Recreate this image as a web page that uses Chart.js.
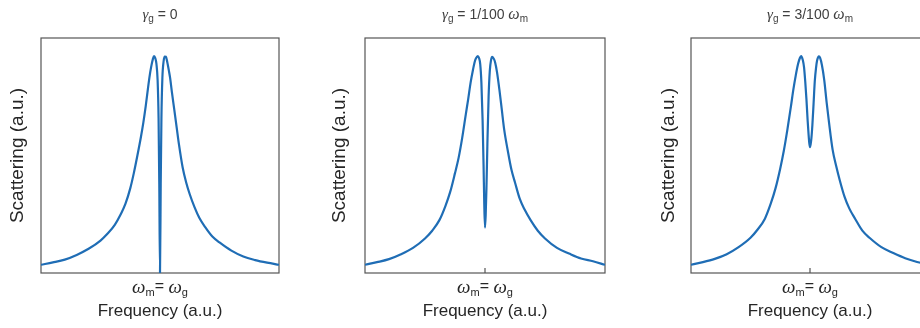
<!DOCTYPE html>
<html><head><meta charset="utf-8">
<script src="https://cdn.jsdelivr.net/npm/chart.js@4.4.1/dist/chart.umd.min.js"></script>
<style>
html,body{margin:0;padding:0;background:#fff;overflow:hidden;width:920px;height:328px;position:relative;}
.box{position:absolute;top:0;width:310px;height:328px;}
canvas{display:block;}
</style></head><body>
<div class="box" style="left:0px"><canvas id="c1" width="310" height="328"></canvas></div>
<div class="box" style="left:322px"><canvas id="c2" width="310" height="328"></canvas></div>
<div class="box" style="left:651px"><canvas id="c3" width="310" height="328"></canvas></div>
<script>
// ---- data ----
const freq = [-1, -0.9, -0.8, -0.7, -0.6, -0.5, -0.44, -0.38, -0.33, -0.29, -0.25, -0.22, -0.19, -0.16, -0.14, -0.12, -0.1, -0.085, -0.075, -0.06, -0.05, -0.04, -0.03, -0.02, -0.012, -0.006, 0,
              0.006, 0.012, 0.02, 0.03, 0.04, 0.05, 0.06, 0.075, 0.085, 0.1, 0.12, 0.14, 0.16, 0.19, 0.22, 0.25, 0.29, 0.33, 0.38, 0.44, 0.5, 0.6, 0.7, 0.8, 0.9, 1];

const scatterGamma0 = [0.035, 0.045, 0.057, 0.077, 0.103, 0.138, 0.168, 0.205, 0.25, 0.295, 0.36, 0.425, 0.5, 0.58, 0.64, 0.71, 0.79, 0.845, 0.875, 0.91, 0.923, 0.915, 0.89, 0.82, 0.66, 0.38, 0,
                       0.38, 0.66, 0.83, 0.90, 0.921, 0.92, 0.90, 0.86, 0.83, 0.77, 0.695, 0.62, 0.545, 0.45, 0.385, 0.335, 0.28, 0.235, 0.195, 0.155, 0.13, 0.095, 0.07, 0.055, 0.044, 0.035];

const scatterGamma1 = [0.035, 0.046, 0.059, 0.08, 0.107, 0.147, 0.18, 0.225, 0.285, 0.345, 0.425, 0.49, 0.575, 0.675, 0.74, 0.81, 0.865, 0.9, 0.914, 0.923, 0.915, 0.89, 0.81, 0.65, 0.46, 0.29, 0.193,
                       0.25, 0.36, 0.55, 0.75, 0.86, 0.905, 0.92, 0.91, 0.895, 0.855, 0.78, 0.695, 0.61, 0.52, 0.44, 0.385, 0.315, 0.27, 0.225, 0.18, 0.147, 0.107, 0.083, 0.062, 0.05, 0.035];

const scatterGamma3 = [0.035, 0.046, 0.06, 0.08, 0.11, 0.15, 0.185, 0.23, 0.295, 0.36, 0.445, 0.52, 0.61, 0.71, 0.78, 0.84, 0.89, 0.915, 0.923, 0.905, 0.875, 0.815, 0.74, 0.65, 0.59, 0.553, 0.536,
                       0.55, 0.575, 0.63, 0.72, 0.815, 0.87, 0.905, 0.922, 0.915, 0.885, 0.82, 0.725, 0.64, 0.525, 0.455, 0.395, 0.325, 0.275, 0.23, 0.18, 0.15, 0.11, 0.085, 0.063, 0.047, 0.035];

const xTitle = 'Frequency (a.u.)';
const yTitle = 'Scattering (a.u.)';
const SANS = '"Liberation Sans", Arial, sans-serif';
const SERIF = '"Liberation Serif", "Times New Roman", serif';

const titles = [
  [{t:'\u03B3', f:'italic 15px ' + SERIF}, {t:'g', f:'10px ' + SANS, dy:4}, {t:' = 0', f:'14px ' + SANS}],
  [{t:'\u03B3', f:'italic 15px ' + SERIF}, {t:'g', f:'10px ' + SANS, dy:4}, {t:' = 1/100 ', f:'14px ' + SANS}, {t:'\u03C9', f:'italic 16px ' + SERIF}, {t:'m', f:'10px ' + SANS, dy:4}],
  [{t:'\u03B3', f:'italic 15px ' + SERIF}, {t:'g', f:'10px ' + SANS, dy:4}, {t:' = 3/100 ', f:'14px ' + SANS}, {t:'\u03C9', f:'italic 16px ' + SERIF}, {t:'m', f:'10px ' + SANS, dy:4}]
];
const tickLabel = [{t:'\u03C9', f:'italic 19px ' + SERIF}, {t:'m', f:'11px ' + SANS, dy:5}, {t:'= ', f:'16px ' + SANS, dy:-1}, {t:'\u03C9', f:'italic 19px ' + SERIF}, {t:'g', f:'11px ' + SANS, dy:5}];

function drawParts(ctx, parts, cx, cy, color) {
  ctx.save();
  ctx.textBaseline = 'middle';
  ctx.textAlign = 'left';
  ctx.fillStyle = color;
  let total = 0;
  parts.forEach(p => { ctx.font = p.f; total += ctx.measureText(p.t).width; });
  let x = cx - total / 2;
  parts.forEach(p => { ctx.font = p.f; ctx.fillText(p.t, x, cy + (p.dy || 0)); x += ctx.measureText(p.t).width; });
  ctx.restore();
}

const framePlugin = {
  id: 'frame',
  beforeDatasetsDraw(chart, args, opts) {
    const {ctx, chartArea: a, scales} = chart;
    ctx.save();
    ctx.strokeStyle = '#555555';
    ctx.lineWidth = 1.2;
    ctx.strokeRect(a.left, a.top, a.right - a.left, a.bottom - a.top);
    const x0 = scales.x.getPixelForValue(0);
    ctx.beginPath(); ctx.moveTo(x0, a.bottom); ctx.lineTo(x0, a.bottom - 5); ctx.stroke();
    ctx.restore();
  },
  afterDraw(chart, args, opts) {
    const {ctx, chartArea: a, scales} = chart;
    const x0 = scales.x.getPixelForValue(0);
    drawParts(ctx, opts.title, (a.left + a.right) / 2, 15, '#404040');
    drawParts(ctx, tickLabel, x0, a.bottom + 15, '#262626');
  }
};

function makeChart(id, values, title, yAxisWidth, rightEdge) {
  const pts = freq.map((f, i) => ({x: f, y: values[i]}));
  new Chart(document.getElementById(id), {
    type: 'line',
    data: { datasets: [{ data: pts, borderColor: '#1f6db5', borderWidth: 2.2, pointRadius: 0, fill: false, cubicInterpolationMode: 'monotone' }] },
    options: {
      responsive: false,
      animation: false,
      devicePixelRatio: 1,
      layout: { padding: { top: 38, left: 0, right: 310 - rightEdge, bottom: 0 } },
      plugins: { legend: {display: false}, tooltip: {enabled: false}, frame: { title: title } },
      scales: {
        x: {
          type: 'linear', min: -1, max: 1,
          grid: {display: false}, border: {display: false},
          ticks: {display: false},
          title: { display: true, text: xTitle, color: '#262626', font: {family: SANS, size: 17}, padding: {top: 0, bottom: 6} },
          afterFit: s => { s.height = 55; }
        },
        y: {
          type: 'linear', min: 0, max: 1,
          grid: {display: false}, border: {display: false},
          ticks: {display: false},
          title: { display: true, text: yTitle, color: '#262626', font: {family: SANS, size: 19}, padding: {top: 6.6, bottom: 0} },
          afterFit: s => { s.width = yAxisWidth; }
        }
      }
    },
    plugins: [framePlugin]
  });
}

makeChart('c1', scatterGamma0, titles[0], 41, 279);
makeChart('c2', scatterGamma1, titles[1], 43, 283);
makeChart('c3', scatterGamma3, titles[2], 40, 278);
</script>
</body></html>
